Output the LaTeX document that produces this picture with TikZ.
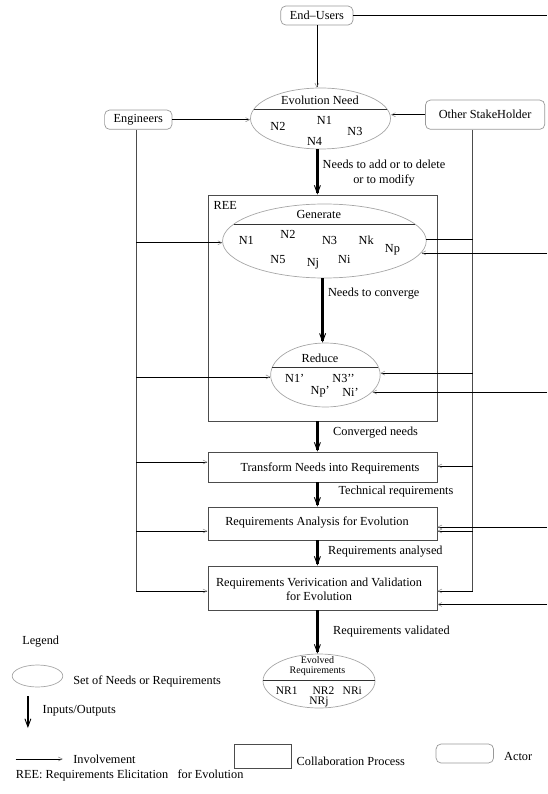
\documentclass[tikz,border=0pt]{standalone}
\usepackage{fontspec}
\setmainfont{Liberation Serif}
\usetikzlibrary{arrows.meta,shapes.geometric}
\begin{document}
\begin{tikzpicture}[x=1pt,y=-1pt,
  every node/.style={font=\fontsize{12.3}{14.5}\selectfont, inner sep=0pt},
  actor/.style={draw=black!40, rounded corners=5pt, line width=0.7pt},
  proc/.style={draw=black!70, line width=0.8pt},
  needset/.style={draw=black!35, ellipse, line width=0.7pt},
  inv/.style={line width=0.6pt, -{Straight Barb[length=4pt,width=4pt,line width=0.5pt,color=black!45]}},
  plain/.style={line width=0.6pt},
  io/.style={line width=2.6pt, -{Straight Barb[length=8pt,width=6pt,line width=0.9pt]}},
  bus/.style={line width=0.7pt, draw=black!70},
  sepline/.style={line width=0.7pt, draw=black!80},
  small/.style={font=\fontsize{10}{10}\selectfont},
  item/.style={font=\fontsize{11.5}{12}\selectfont},
]
\useasboundingbox (0,0) rectangle (547,794);
\coordinate (redge) at (547,0);
\coordinate (lb) at (136,591);
\coordinate (rb) at (472.6,591);

% actors
\node[actor, minimum width=72.2pt, minimum height=19pt] (eu) at (316.9,15.5) {End--Users};
\node[actor, minimum width=67.4pt, minimum height=19.3pt] (eng) at (138.3,119.7) {Engineers};
\node[actor, minimum width=119.3pt, minimum height=29.3pt] (osh) at (485.1,114.7) {Other StakeHolder};

% Evolution Need
\node[needset, minimum width=140pt, minimum height=61pt] (evn) at (320.5,118.5) {};
\draw[sepline] ([shift={(-66.5,-9.5)}]evn.center) -- ([shift={(66.5,-9.5)}]evn.center);
\node (evnt) at (320,100) {Evolution Need};
\node (n2a) at (278,126) {N2};
\node (n1a) at (324.4,120) {N1};
\node (n3a) at (355,131) {N3};
\node (n4a) at (314.6,141) {N4};

% REE box
\node[proc, minimum width=229.1pt, minimum height=226pt] (ree) at (322.45,308) {};
\node[anchor=west] (reet) at (213.5,205) {REE};

% Generate
\node[needset, minimum width=203.7pt, minimum height=74pt] (gen) at (324.4,241) {};
\draw[sepline] ([shift={(-90.4,-17)}]gen.center) -- ([shift={(90.4,-17)}]gen.center);
\node (gent) at (318.8,214.3) {Generate};
\node (g1) at (246.3,240) {N1};
\node (g2) at (288,234.3) {N2};
\node (g3) at (329.6,240) {N3};
\node (gk) at (366.2,240) {Nk};
\node (gp) at (392.4,250) {Np};
\node (g5) at (278,259.3) {N5};
\node (gj) at (312.9,264) {Nj};
\node (gi) at (344.3,259.3) {Ni};

% Reduce
\node[needset, minimum width=109.5pt, minimum height=64pt] (red) at (325.4,375) {};
\draw[sepline] ([shift={(-53,-8)}]red.center) -- ([shift={(53,-8)}]red.center);
\node (redt) at (320,358.3) {Reduce};
\node (r1) at (294.7,378.3) {N1'};
\node (r3) at (343.6,378.3) {N3'{}'};
\node (rp) at (320.2,392) {Np'};
\node (ri) at (350.5,392) {Ni'};

% process boxes
\node[proc, minimum width=229.1pt, minimum height=30pt] (tr) at (322.45,467) {};
\node (trt) at (330,468) {Transform Needs into Requirements};
\node[proc, minimum width=229.1pt, minimum height=33pt] (an) at (322.45,523.5) {};
\node (ant) at (317,522) {Requirements Analysis for Evolution};
\node[proc, minimum width=229.1pt, minimum height=44pt] (vv) at (322.45,588) {};
\node[align=center] (vvt) at (319,589.5) {Requirements Verivication and Validation\\for Evolution};

% Evolved Requirements
\node[needset, minimum width=112pt, minimum height=54pt] (evo) at (319,681) {};
\draw[sepline] ([shift={(-56,-1)}]evo.center) -- ([shift={(56,-1)}]evo.center);
\node[small, align=center] (evot) at (317.5,666.5) {Evolved\\Requirements};
\node[item] (nr1) at (286.8,690.5) {NR1};
\node[item] (nr2) at (323.4,690.5) {NR2};
\node[item] (nri) at (352.3,690.5) {NRi};
\node[item] (nrj) at (319,702) {NRj};

% thick input/output arrows
\draw[io] ([xshift=-3.1pt]evn.south) -- ([xshift=-3.1pt]evn.south |- ree.north);
\node[align=center] (l1) at (384,173) {Needs to add or to delete\\or to modify};
\draw[io] ([xshift=-1.8pt]gen.south) -- ([xshift=-1.8pt]gen.south |- red.north);
\node[anchor=west] (l2) at (327.9,294) {Needs to converge};
\draw[io] ([xshift=-5.05pt]ree.south) -- ([xshift=-5.05pt]tr.north);
\node[anchor=west] (l3) at (333,433) {Converged needs};
\draw[io] ([xshift=-5.05pt]tr.south) -- ([xshift=-5.05pt]an.north);
\node[anchor=west] (l4) at (338.3,492) {Technical requirements};
\draw[io] ([xshift=-5.05pt]an.south) -- ([xshift=-5.05pt]vv.north);
\node[anchor=west] (l5) at (328,552) {Requirements analysed};
\draw[io] ([xshift=-5.05pt]vv.south) -- ([xshift=-5.05pt]vv.south |- evo.north);
\node[anchor=west] (l6) at (333,632) {Requirements validated};

% involvement
\draw[inv] (eu.south) -- (eu.south |- evn.north);
\draw[plain] (eu.east) -- (eu.east -| redge);
\draw[inv] (eng.east) -- (eng.east -| evn.west);
\draw[inv] (osh.west) -- (osh.west -| evn.east);
\draw[bus] ([xshift=-2.3pt]eng.south) -- (lb);
\draw[bus] ([xshift=-12.5pt]osh.south) -- (rb);

\draw[inv] (gen.181.1 -| lb) -- (gen.181.1);
\draw[plain] (gen.1.1) -- (gen.1.1 -| rb);
\draw[inv] (gen.-7.1 -| redge) -- (gen.-7.1);
\draw[inv] (red.182.1 -| lb) -- (red.182.1);
\draw[inv] (red.2.1 -| rb) -- (red.2.1);
\draw[inv] (red.-20.2 -| redge) -- (red.-20.2);

\draw[inv] ([yshift=5pt]tr.west -| lb) -- ([yshift=5pt]tr.west);
\draw[inv] ([yshift=1pt]tr.east -| rb) -- ([yshift=1pt]tr.east);
\draw[inv] ([yshift=-7.5pt]an.west -| lb) -- ([yshift=-7.5pt]an.west);
\draw[inv] ([yshift=-7.5pt]an.east -| rb) -- ([yshift=-7.5pt]an.east);
\draw[inv] ([yshift=-3.5pt]an.east -| redge) -- ([yshift=-3.5pt]an.east);
\draw[inv] (lb) -- (lb -| vv.west);
\draw[inv] (rb) -- (rb -| vv.east);
\draw[inv] ([yshift=-16.5pt]vv.east -| redge) -- ([yshift=-16.5pt]vv.east);

% legend
\node (leg) at (40.7,642) {Legend};
\node[needset, minimum width=50.6pt, minimum height=22pt] (legset) at (37.5,676) {};
\node[anchor=west] (legsett) at (73.2,681) {Set of Needs or Requirements};
\coordinate (ioa) at (27.9,696);
\coordinate (iob) at (27.9,728);
\draw[io] (ioa) -- (iob);
\node[anchor=west] (legio) at (42.5,711) {Inputs/Outputs};
\coordinate (inva) at (15.7,759);
\coordinate (invb) at (62.8,759);
\draw[inv] (inva) -- (invb);
\node[anchor=west] (leginv) at (73.2,759) {Involvement};
\node[proc, minimum width=56.8pt, minimum height=24pt] (legproc) at (262.8,756) {};
\node[anchor=west] (legproct) at (296.5,761) {Collaboration Process};
\node[actor, minimum width=57.5pt, minimum height=19pt] (legact) at (464.8,753.5) {};
\node[anchor=west] (legactt) at (504,756) {Actor};
\node[anchor=west] (legree) at (15.7,775) {REE: Requirements Elicitation\ \ \ for Evolution};
\end{tikzpicture}
\end{document}
